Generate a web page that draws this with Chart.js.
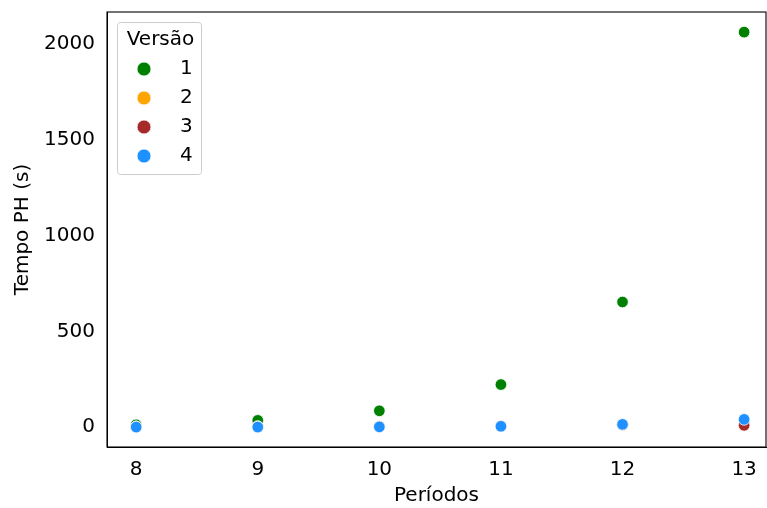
<!DOCTYPE html>
<html><head><meta charset="utf-8">
<script src="https://cdn.jsdelivr.net/npm/chart.js@4.4.1/dist/chart.umd.min.js"></script>
<style>html,body{margin:0;padding:0;background:#fff}#wrap{width:767px;height:508px}</style>
</head><body><div id="wrap"><canvas id="c" width="767" height="508"></canvas></div>
<script>
const periods = [8, 9, 10, 11, 12, 13];
const versionLabels = ['1', '2', '3', '4'];
const v1 = [12, 35, 85, 222, 653, 2062];
const v2 = [1, 2, 3, 5, 12, 10];
const v3 = [1, 2, 3, 5, 12, 9];
const v4 = [0, 0, 1, 4, 14, 40];
const colors = ['#008000', '#FFA500', '#A52A2A', '#1E90FF'];
const yTicks = [0, 500, 1000, 1500, 2000];
const xTicks = [8, 9, 10, 11, 12, 13];
const series = [v1, v2, v3, v4];
const FONT = "'DejaVu Sans', sans-serif";
const FS = 20;

const datasets = series.map((vals, i) => ({
  label: versionLabels[i],
  data: periods.map((p, j) => ({x: p, y: vals[j]})),
  backgroundColor: colors[i],
  borderColor: '#ffffff',
  borderWidth: 0.8,
  pointRadius: 5.8,
  pointHoverRadius: 5.8,
  order: 4 - i
}));

const framePlugin = {
  id: 'frame',
  afterDatasetsDraw(chart) {
    const {ctx, chartArea: a} = chart;
    ctx.save();
    ctx.strokeStyle = '#000';
    ctx.lineWidth = 1.1;
    ctx.strokeRect(a.left, a.top, a.right - a.left, a.bottom - a.top);
    // legend
    const lx = 117.5, ly = 22.5, lw = 84, lh = 152;
    ctx.fillStyle = 'rgba(255,255,255,0.8)';
    ctx.strokeStyle = '#cccccc';
    ctx.lineWidth = 1;
    ctx.beginPath();
    if (ctx.roundRect) ctx.roundRect(lx, ly, lw, lh, 3); else ctx.rect(lx, ly, lw, lh);
    ctx.fill(); ctx.stroke();
    ctx.fillStyle = '#000';
    ctx.font = FS + 'px ' + FONT;
    ctx.textBaseline = 'middle';
    ctx.textAlign = 'center';
    ctx.fillText('Versão', lx + lw / 2 + 1, 40);
    versionLabels.forEach((lab, i) => {
      const cy = 69 + i * 29;
      ctx.beginPath();
      ctx.arc(144, cy, 7, 0, Math.PI * 2);
      ctx.fillStyle = colors[i];
      ctx.fill();
      ctx.strokeStyle = '#fff'; ctx.lineWidth = 0.8; ctx.stroke();
      ctx.fillStyle = '#000';
      ctx.textAlign = 'left';
      ctx.fillText(lab, 180, cy);
    });
    ctx.restore();
  }
};

new Chart(document.getElementById('c'), {
  type: 'scatter',
  data: {datasets},
  options: {
    responsive: false,
    animation: false,
    devicePixelRatio: 1,
    layout: {autoPadding: false, padding: {top: 12, right: 1, bottom: 0, left: 0}},
    plugins: {legend: {display: false}, tooltip: {enabled: false}},
    scales: {
      x: {
        type: 'linear', min: 7.76, max: 13.18,
        afterBuildTicks(s) { s.ticks = xTicks.map(v => ({value: v})); },
        afterFit(s) { s.height = 61; s.paddingLeft = 0; s.paddingRight = 0; },
        grid: {display: false, drawOnChartArea: false, drawTicks: true, tickLength: 7, tickColor: '#000', tickWidth: 1},
        border: {display: true, color: '#000', width: 1},
        ticks: {color: '#000', font: {family: FONT, size: FS}, padding: 4, maxRotation: 0, callback: v => String(v)},
        title: {display: true, text: 'Períodos', color: '#000', font: {family: FONT, size: FS}, padding: {top: 0, bottom: 0}}
      },
      y: {
        type: 'linear', min: -104, max: 2167,
        afterBuildTicks(s) { s.ticks = yTicks.map(v => ({value: v})); },
        afterFit(s) { s.width = 107; s.paddingTop = 0; s.paddingBottom = 0; },
        grid: {display: false, drawOnChartArea: false, drawTicks: true, tickLength: 7, tickColor: '#000', tickWidth: 1},
        border: {display: true, color: '#000', width: 1},
        ticks: {color: '#000', font: {family: FONT, size: FS}, padding: 5, callback: v => String(v)},
        title: {display: true, text: 'Tempo PH (s)', color: '#000', font: {family: FONT, size: FS}, padding: {top: 11, bottom: 0}}
      }
    }
  },
  plugins: [framePlugin]
});
</script></body></html>
